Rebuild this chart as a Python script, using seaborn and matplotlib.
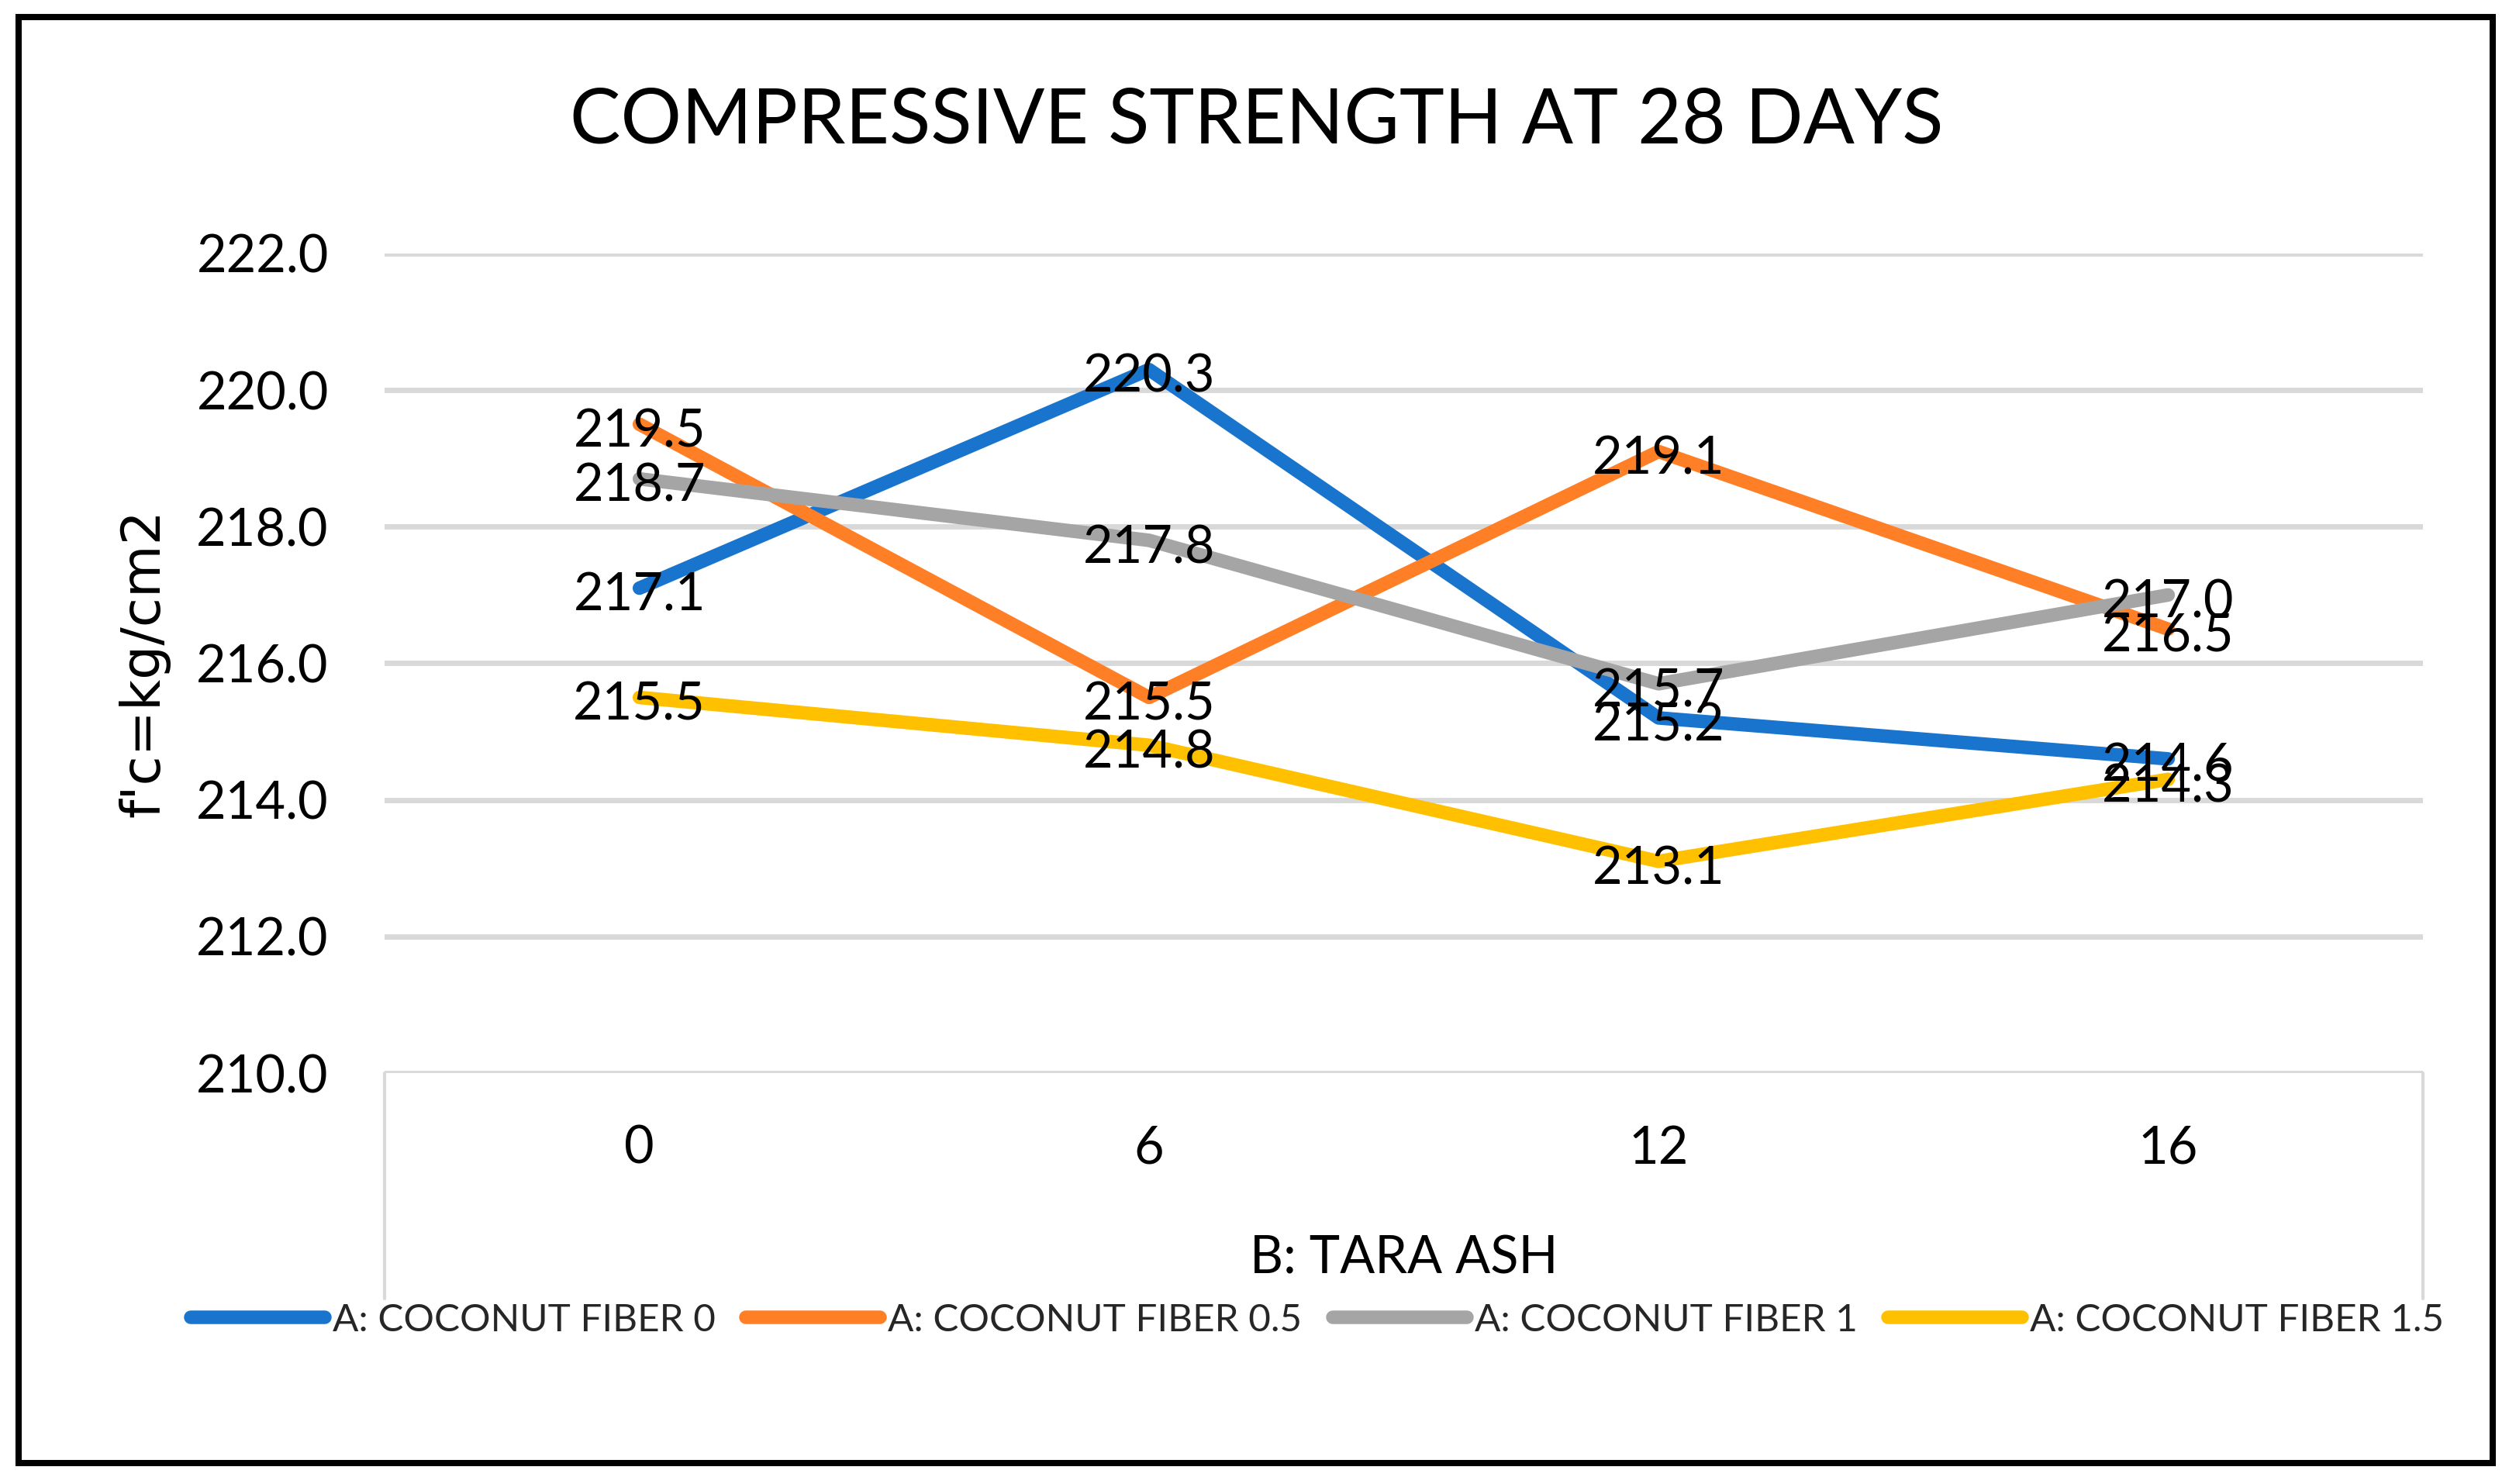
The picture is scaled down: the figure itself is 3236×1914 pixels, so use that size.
import numpy as np
import pandas as pd
import matplotlib
matplotlib.use("Agg")
import matplotlib.pyplot as plt
import seaborn as sns
from matplotlib.patches import Rectangle
from matplotlib.lines import Line2D

# ── data ──────────────────────────────────────────────────────────────────────
tara_ash = ["0", "6", "12", "16"]
series_names = [
    "A: COCONUT FIBER 0",
    "A: COCONUT FIBER 0.5",
    "A: COCONUT FIBER 1",
    "A: COCONUT FIBER 1.5",
]
fiber_0 = [217.1, 220.3, 215.2, 214.6]
fiber_05 = [219.5, 215.5, 219.1, 216.5]
fiber_1 = [218.7, 217.8, 215.7, 217.0]
fiber_15 = [215.5, 214.8, 213.1, 214.3]
y_ticks = [210.0, 212.0, 214.0, 216.0, 218.0, 220.0, 222.0]

colors = ["#1874CD", "#FF7F27", "#A5A5A5", "#FFC000"]

rows = []
for name, vals in zip(series_names, [fiber_0, fiber_05, fiber_1, fiber_15]):
    for i, v in enumerate(vals):
        rows.append({"pos": i, "ash": tara_ash[i], "fc": v, "series": name})
df = pd.DataFrame(rows)

# ── style ─────────────────────────────────────────────────────────────────────
sns.set_theme(style="white")
plt.rcParams["font.family"] = ["Lato", "DejaVu Sans"]
plt.rcParams["lines.solid_capstyle"] = "round"
plt.rcParams["lines.solid_joinstyle"] = "round"

LW = 6.3
GRID = "#D9D9D9"

fig = plt.figure(figsize=(16.18, 9.57), dpi=200)
ax = fig.add_axes([0.1533, 0.2769, 0.8124, 0.5523])

sns.lineplot(data=df, x="pos", y="fc", hue="series", palette=colors,
             hue_order=series_names, linewidth=LW, ax=ax, legend=False,
             sort=False)

# data labels, centred on each point
for name, vals in zip(series_names, [fiber_0, fiber_05, fiber_1, fiber_15]):
    for i, v in enumerate(vals):
        ax.annotate(f"{v:.1f}", (i, v), xytext=(0, -10.5),
                    textcoords="offset points", ha="center", va="baseline",
                    fontsize=24, color="black")

ax.set_xlim(-0.5, len(tara_ash) - 0.5)
ax.set_ylim(y_ticks[0], y_ticks[-1])
ax.set_yticks(y_ticks)
ax.set_yticklabels([f"{t:.1f}" for t in y_ticks])
ax.set_xticks(range(len(tara_ash)))
ax.set_xticklabels(tara_ash)
ax.tick_params(axis="y", length=0, pad=26, labelsize=24, labelcolor="black")
ax.tick_params(axis="x", length=0, pad=24, labelsize=24, labelcolor="black")

ax.grid(axis="y", color=GRID, linewidth=2.5)
ax.set_axisbelow(True)
for s in ax.spines.values():
    s.set_visible(False)

# plot-area frame continues below the value axis
for xa in (0, 1):
    ax.add_line(Line2D([xa, xa], [0, -0.275], transform=ax.transAxes,
                       color=GRID, linewidth=1.5, clip_on=False))

ax.set_xlabel("B: TARA ASH", fontsize=24, color="black", va="center")
ax.xaxis.set_label_coords(0.5, -0.227)
ax.set_ylabel("f'c=kg/cm2", fontsize=25, color="black", va="center",
              family=["DejaVu Sans"])
ax.yaxis.set_label_coords(-0.118, 0.5)

fig.text(0.5007, 0.918, "COMPRESSIVE STRENGTH AT 28 DAYS",
         ha="center", va="center", fontsize=35.3, color="black")

handles = [Line2D([0], [0], color=c, linewidth=LW) for c in colors]
fig.legend(handles, series_names, loc="center", bbox_to_anchor=(0.525, 0.1105),
           ncol=4, frameon=False, fontsize=17.8, handlelength=3.5,
           handletextpad=0.2, columnspacing=0.8)

# outer chart border
fig.patches.append(Rectangle((24 / 3236, 1 - 1887 / 1914),
                             (3215 - 24) / 3236, (1887 - 22) / 1914,
                             transform=fig.transFigure, fill=False,
                             edgecolor="black", linewidth=2.9))

fig.savefig("out.png", dpi=200)
